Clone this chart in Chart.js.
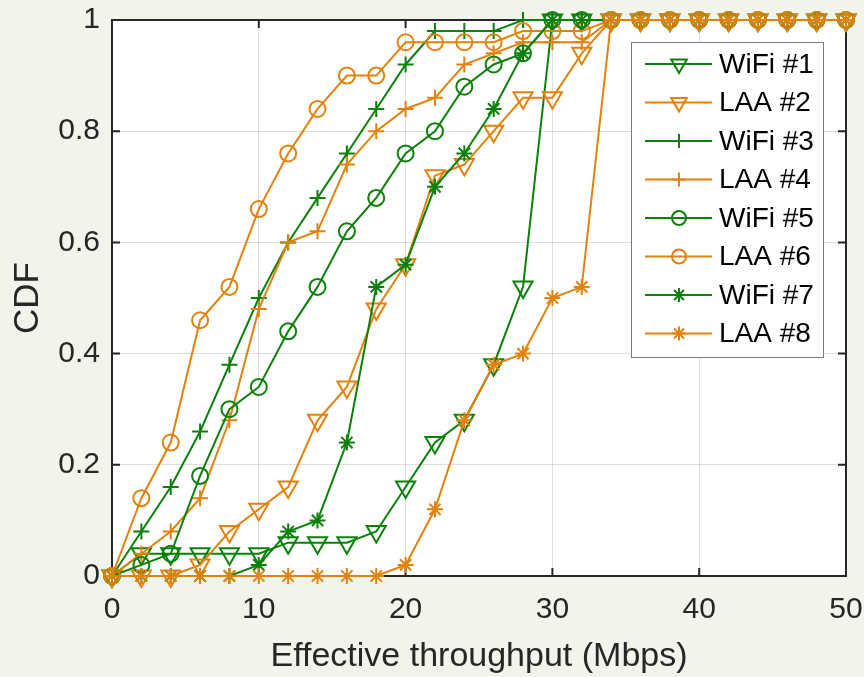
<!DOCTYPE html>
<html>
<head>
<meta charset="utf-8">
<script src="https://cdn.jsdelivr.net/npm/chart.js@4/dist/chart.umd.min.js"></script>
<style>
  body { margin: 0; background: #f1f4eb; }
  canvas { display: block; }
</style>
</head>
<body>
<canvas id="myChart" width="864" height="677"></canvas>
<script>
// ====================================
// ==== Données ==
// ====================================

// débit effectif en Mbps (abscisse)
const debit = [0, 2, 4, 6, 8, 10, 12, 14, 16, 18, 20, 22, 24, 26, 28, 30, 32, 34, 36, 38, 40, 42, 44, 46, 48, 50];

const wifi1 = [0, 0.04, 0.04, 0.04, 0.04, 0.04, 0.06, 0.06, 0.06, 0.08, 0.16, 0.24, 0.28, 0.38, 0.52, 1, 1, 1, 1, 1, 1, 1, 1, 1, 1, 1];
const laa2  = [0, 0, 0, 0.02, 0.08, 0.12, 0.16, 0.28, 0.34, 0.48, 0.56, 0.72, 0.74, 0.80, 0.86, 0.86, 0.94, 1, 1, 1, 1, 1, 1, 1, 1, 1];
const wifi3 = [0, 0.08, 0.16, 0.26, 0.38, 0.5, 0.6, 0.68, 0.76, 0.84, 0.92, 0.98, 0.98, 0.98, 1, 1, 1, 1, 1, 1, 1, 1, 1, 1, 1, 1];
const laa4  = [0, 0.04, 0.08, 0.14, 0.28, 0.48, 0.6, 0.62, 0.74, 0.8, 0.84, 0.86, 0.92, 0.94, 0.96, 0.96, 0.96, 1, 1, 1, 1, 1, 1, 1, 1, 1];
const wifi5 = [0, 0.02, 0.04, 0.18, 0.3, 0.34, 0.44, 0.52, 0.62, 0.68, 0.76, 0.8, 0.88, 0.92, 0.94, 1, 1, 1, 1, 1, 1, 1, 1, 1, 1, 1];
const laa6  = [0, 0.14, 0.24, 0.46, 0.52, 0.66, 0.76, 0.84, 0.9, 0.9, 0.96, 0.96, 0.96, 0.96, 0.98, 0.98, 0.98, 1, 1, 1, 1, 1, 1, 1, 1, 1];
const wifi7 = [0, 0, 0, 0, 0, 0.02, 0.08, 0.1, 0.24, 0.52, 0.56, 0.7, 0.76, 0.84, 0.94, 1, 1, 1, 1, 1, 1, 1, 1, 1, 1, 1];
const laa8  = [0, 0, 0, 0, 0, 0, 0, 0, 0, 0, 0.02, 0.12, 0.28, 0.38, 0.4, 0.5, 0.52, 1, 1, 1, 1, 1, 1, 1, 1, 1];

const noms = ['WiFi #1', 'LAA #2', 'WiFi #3', 'LAA #4', 'WiFi #5', 'LAA #6', 'WiFi #7', 'LAA #8'];
const series = [wifi1, laa2, wifi3, laa4, wifi5, laa6, wifi7, laa8];

// ====================================
// ==== Styles =========================
// ====================================
const vert = '#0b800b';
const orange = '#e2820c';
const texte = '#262626';
const police = '"Liberation Sans", Arial, sans-serif';

// un style de marqueur par paire WiFi / LAA
const marqueurs = [
  {pointStyle: 'triangle', rotation: 180, radius: 11},
  {pointStyle: 'triangle', rotation: 180, radius: 11},
  {pointStyle: 'cross', rotation: 0, radius: 8},
  {pointStyle: 'cross', rotation: 0, radius: 8},
  {pointStyle: 'circle', rotation: 0, radius: 8},
  {pointStyle: 'circle', rotation: 0, radius: 8},
  {pointStyle: 'star', rotation: 0, radius: 8},
  {pointStyle: 'star', rotation: 0, radius: 8}
];

const data = {
  datasets: series.map((valeurs, i) => ({
    label: noms[i],
    data: valeurs.map((v, j) => ({x: debit[j], y: v})),
    borderColor: i % 2 === 0 ? vert : orange,
    backgroundColor: 'rgba(0,0,0,0)',
    borderWidth: 2,
    pointStyle: marqueurs[i].pointStyle,
    pointRotation: marqueurs[i].rotation,
    pointRadius: marqueurs[i].radius,
    pointBorderWidth: 2,
    pointBorderColor: i % 2 === 0 ? vert : orange,
    pointBackgroundColor: 'rgba(0,0,0,0)',
    pointHoverRadius: marqueurs[i].radius,
    showLine: true,
    tension: 0,
    clip: false,
    order: series.length - 1 - i // la dernière série au premier plan (comme matlab)
  }))
};

// fond de la figure + zone blanche du graphique
const Fond = {
  id: 'Fond',
  beforeDraw(chart) {
    const {ctx, chartArea: {top, bottom, left, right}} = chart;
    ctx.save();
    ctx.fillStyle = '#f1f4eb';
    ctx.fillRect(0, 0, chart.width, chart.height);
    ctx.fillStyle = '#ffffff';
    ctx.fillRect(left, top, right - left, bottom - top);
    ctx.restore();
  }
};

// cadre + graduations vers l'intérieur
const Cadre = {
  id: 'Cadre',
  beforeDatasetsDraw(chart) {
    const {ctx, chartArea: {top, bottom, left, right}, scales: {x, y}} = chart;
    ctx.save();
    ctx.strokeStyle = texte;
    ctx.lineWidth = 2;
    ctx.strokeRect(left, top, right - left, bottom - top);
    ctx.beginPath();
    x.ticks.forEach(t => {
      const px = x.getPixelForValue(t.value);
      ctx.moveTo(px, bottom); ctx.lineTo(px, bottom - 8);
      ctx.moveTo(px, top); ctx.lineTo(px, top + 8);
    });
    y.ticks.forEach(t => {
      const py = y.getPixelForValue(t.value);
      ctx.moveTo(left, py); ctx.lineTo(left + 8, py);
      ctx.moveTo(right, py); ctx.lineTo(right - 8, py);
    });
    ctx.stroke();
    ctx.restore();
  }
};

// légende façon matlab : trait + marqueur
const Legende = {
  id: 'Legende',
  afterDraw(chart) {
    const {ctx} = chart;
    const x0 = 631, y0 = 42, largeur = 192, hauteur = 315;
    ctx.save();
    ctx.fillStyle = '#ffffff';
    ctx.fillRect(x0, y0, largeur, hauteur);
    ctx.strokeStyle = '#7a7a7a';
    ctx.lineWidth = 1;
    ctx.strokeRect(x0 + 0.5, y0 + 0.5, largeur, hauteur);
    ctx.font = '28px ' + police;
    ctx.textBaseline = 'middle';
    chart.data.datasets.forEach((ds, i) => {
      const yl = 64 + i * 38.5;
      ctx.strokeStyle = ds.borderColor;
      ctx.lineWidth = 2;
      ctx.beginPath();
      ctx.moveTo(645, yl);
      ctx.lineTo(712, yl);
      ctx.stroke();
      ctx.fillStyle = 'rgba(0,0,0,0)';
      Chart.helpers.drawPoint(ctx, {
        pointStyle: ds.pointStyle,
        rotation: ds.pointRotation,
        radius: ds.pointStyle === 'triangle' ? 9 : 7,
        borderWidth: 2
      }, 679, yl);
      ctx.fillStyle = '#000000';
      ctx.fillText(ds.label, 719, yl + 1);
    });
    ctx.restore();
  }
};

// pas de marge automatique autour des axes : seule layout.padding compte
function sansMarge(scale) {
  scale.paddingTop = 0;
  scale.paddingBottom = 0;
  scale.paddingLeft = 0;
  scale.paddingRight = 0;
}

const config = {
  type: 'scatter',
  data,
  options: {
    responsive: false,
    animation: false,
    layout: {
      padding: {left: 0, top: 20, right: 18, bottom: 0}
    },
    scales: {
      x: {
        type: 'linear',
        min: 0,
        max: 50,
        afterFit(scale) { scale.height = 101; sansMarge(scale); },
        grid: {color: 'rgba(38,38,38,0.15)', lineWidth: 1, drawTicks: false},
        border: {display: false},
        ticks: {stepSize: 10, color: texte, font: {family: police, size: 30}, padding: 16, maxRotation: 0},
        title: {display: true, text: 'Effective throughput (Mbps)', color: texte, font: {family: police, size: 34}, padding: {top: 0, bottom: 0}}
      },
      y: {
        min: 0,
        max: 1,
        afterFit(scale) { scale.width = 112; sansMarge(scale); },
        grid: {color: 'rgba(38,38,38,0.15)', lineWidth: 1, drawTicks: false},
        border: {display: false},
        ticks: {
          stepSize: 0.2, color: texte, font: {family: police, size: 30}, padding: 12,
          callback: v => String(Math.round(v * 10) / 10)
        },
        title: {display: true, text: 'CDF', color: texte, font: {family: police, size: 35}, padding: {top: 7, bottom: 0}}
      }
    },
    plugins: {
      legend: {display: false},
      tooltip: {enabled: false}
    }
  },
  plugins: [Fond, Cadre, Legende]
};

const myChart = new Chart(document.getElementById('myChart'), config);
</script>
</body>
</html>
